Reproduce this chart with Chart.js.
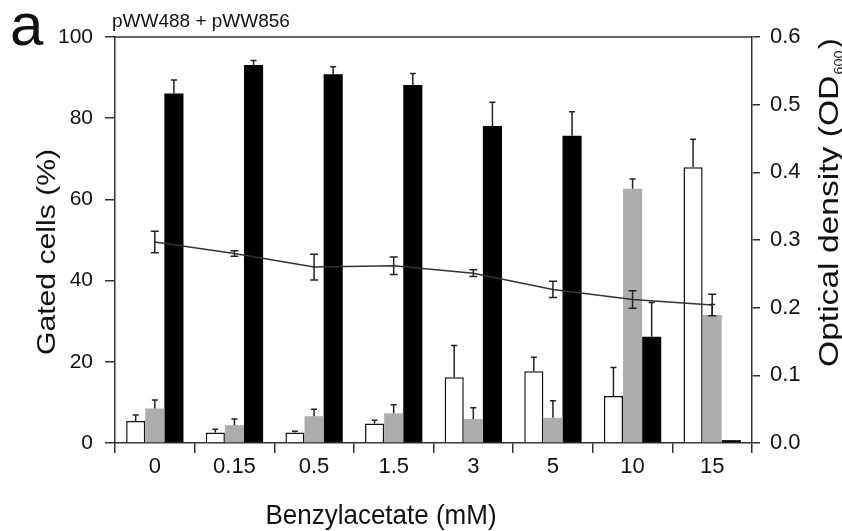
<!DOCTYPE html>
<html>
<head>
<meta charset="utf-8">
<script src="https://cdn.jsdelivr.net/npm/chart.js@4"></script>
<style>
  html, body { margin: 0; padding: 0; background: #ffffff; }
  canvas { display: block; }
</style>
</head>
<body>
<canvas id="c" width="842" height="531"></canvas>
<script>
// ---- data ----
const categories = ['0', '0.15', '0.5', '1.5', '3', '5', '10', '15'];
const whiteVals  = [5.4, 2.6, 2.6, 4.8, 16.2, 17.7, 11.6, 67.9];
const whiteErr   = [1.5, 0.8, 0.3, 0.8, 7.8, 3.4, 7.0, 6.9];
const grayVals   = [8.5, 4.4, 6.6, 7.3, 5.9, 6.2, 62.6, 31.5];
const grayErr    = [2.1, 1.5, 1.7, 2.1, 2.8, 4.2, 2.4, 2.6];
const blackVals  = [86.1, 93.1, 90.8, 88.2, 78.1, 75.7, 26.2, 0.7];
const blackErr   = [3.3, 1.1, 1.9, 2.8, 5.8, 5.9, 8.4, 0];
const odVals     = [0.297, 0.280, 0.260, 0.262, 0.251, 0.227, 0.212, 0.204];
const odErr      = [0.016, 0.004, 0.019, 0.013, 0.005, 0.012, 0.013, 0.016];
const leftTicks  = [0, 20, 40, 60, 80, 100];
const rightTicks = [0.0, 0.1, 0.2, 0.3, 0.4, 0.5, 0.6];

const FONT = '"Liberation Sans", Arial, Helvetica, sans-serif';
const INK = '#111111';
const AXIS = '#333333';

const errorBars = {
  id: 'errorBars',
  afterDatasetsDraw(chart) {
    const ctx = chart.ctx;
    ctx.save();
    ctx.strokeStyle = '#222222';
    ctx.lineWidth = 1.5;
    const sets = [[0, whiteVals, whiteErr, 'y', 3], [1, grayVals, grayErr, 'y', 3],
                  [2, blackVals, blackErr, 'y', 3]];
    sets.forEach(([di, vals, errs, ax, cap]) => {
      const meta = chart.getDatasetMeta(di);
      const sc = chart.scales[ax];
      meta.data.forEach((el, i) => {
        if (!errs[i]) return;
        const y0 = sc.getPixelForValue(vals[i]);
        const y1 = sc.getPixelForValue(vals[i] + errs[i]);
        ctx.beginPath();
        ctx.moveTo(el.x, y0); ctx.lineTo(el.x, y1);
        ctx.moveTo(el.x - cap, y1); ctx.lineTo(el.x + cap, y1);
        ctx.stroke();
      });
    });
    // line series: symmetric error bars
    const meta = chart.getDatasetMeta(3);
    const sc = chart.scales.y1;
    meta.data.forEach((el, i) => {
      const yu = sc.getPixelForValue(odVals[i] + odErr[i]);
      const yd = sc.getPixelForValue(odVals[i] - odErr[i]);
      ctx.beginPath();
      ctx.moveTo(el.x, yu); ctx.lineTo(el.x, yd);
      ctx.moveTo(el.x - 4, yu); ctx.lineTo(el.x + 4, yu);
      ctx.moveTo(el.x - 4, yd); ctx.lineTo(el.x + 4, yd);
      ctx.stroke();
    });
    ctx.restore();
  }
};

const decorations = {
  id: 'decorations',
  afterDraw(chart) {
    const ctx = chart.ctx;
    const a = chart.chartArea;
    ctx.save();
    // top frame line
    ctx.strokeStyle = AXIS;
    ctx.lineWidth = 1.5;
    ctx.beginPath();
    ctx.moveTo(a.left, a.top); ctx.lineTo(a.right, a.top);
    ctx.stroke();

    ctx.fillStyle = INK;
    ctx.textBaseline = 'alphabetic';
    // panel letter
    ctx.font = '60px ' + FONT;
    ctx.textAlign = 'left';
    ctx.fillText('a', 10, 45);
    // header
    ctx.font = '19px ' + FONT;
    ctx.fillText('pWW488 + pWW856', 112, 27);

    // x title
    ctx.save();
    ctx.translate(381, 524);
    ctx.scale(1, 1.07);
    ctx.font = '26px ' + FONT;
    ctx.textAlign = 'center';
    ctx.fillText('Benzylacetate (mM)', 0, 0);
    ctx.restore();

    // left title
    ctx.save();
    ctx.translate(55, 252);
    ctx.scale(1, 1.16);
    ctx.rotate(-Math.PI / 2);
    ctx.font = '26px ' + FONT;
    ctx.textAlign = 'center';
    ctx.fillText('Gated cells (%)', 0, 0);
    ctx.restore();

    // right title with subscript
    ctx.save();
    ctx.translate(838, 367);
    ctx.scale(1, 1.2);
    ctx.rotate(-Math.PI / 2);
    ctx.textAlign = 'left';
    ctx.font = '28px ' + FONT;
    const main = 'Optical density (OD';
    ctx.fillText(main, 0, 0);
    let x = ctx.measureText(main).width + 1;
    ctx.font = '12px ' + FONT;
    ctx.fillText('600', x, 5);
    x += ctx.measureText('600').width + 1;
    ctx.font = '28px ' + FONT;
    ctx.fillText(')', x, 0);
    ctx.restore();

    ctx.restore();
  }
};

new Chart(document.getElementById('c'), {
  type: 'bar',
  data: {
    labels: categories,
    datasets: [
      { label: 'white', data: whiteVals, backgroundColor: '#ffffff', borderColor: '#111111',
        borderWidth: 1.5, yAxisID: 'y', order: 1 },
      { label: 'gray', data: grayVals, backgroundColor: '#adadad', borderWidth: 0,
        yAxisID: 'y', order: 1 },
      { label: 'black', data: blackVals, backgroundColor: '#000000', borderWidth: 0,
        yAxisID: 'y', order: 1 },
      { type: 'line', label: 'OD600', data: odVals, borderColor: '#333333', borderWidth: 1.5,
        pointRadius: 0, fill: false, tension: 0, yAxisID: 'y1', order: 0 }
    ]
  },
  options: {
    responsive: false,
    animation: false,
    devicePixelRatio: 1,
    categoryPercentage: 0.72,
    barPercentage: 1.0,
    layout: { padding: { top: 37, left: 0, right: 0, bottom: 0 } },
    plugins: { legend: { display: false }, tooltip: { enabled: false }, title: { display: false } },
    scales: {
      x: {
        offset: true,
        grid: { offset: true, drawOnChartArea: false, drawTicks: true, tickLength: 10,
                color: AXIS, lineWidth: 1.5 },
        border: { display: true, color: AXIS, width: 1.5 },
        ticks: { font: { family: FONT, size: 22 }, color: INK, padding: 1, maxRotation: 0 },
        afterFit(s) { s.height = 88; }
      },
      y: {
        position: 'left',
        min: 0, max: 100,
        afterBuildTicks(s) { s.ticks = leftTicks.map(v => ({ value: v })); },
        grid: { drawOnChartArea: false, drawTicks: true, tickLength: 10, color: AXIS, lineWidth: 1.5 },
        border: { display: true, color: AXIS, width: 1.5 },
        ticks: { font: { family: FONT, size: 21 }, color: INK, padding: 12 },
        afterFit(s) { s.width = 115; }
      },
      y1: {
        position: 'right',
        min: 0, max: 0.6,
        afterBuildTicks(s) { s.ticks = rightTicks.map(v => ({ value: v })); },
        grid: { drawOnChartArea: false, drawTicks: true, tickLength: 8, color: AXIS, lineWidth: 1.5 },
        border: { display: true, color: AXIS, width: 1.5 },
        ticks: { font: { family: FONT, size: 22 }, color: INK, padding: 10,
                 callback: v => Number(v).toFixed(1) },
        afterFit(s) { s.width = 90; }
      }
    }
  },
  plugins: [errorBars, decorations]
});
</script>
</body>
</html>
